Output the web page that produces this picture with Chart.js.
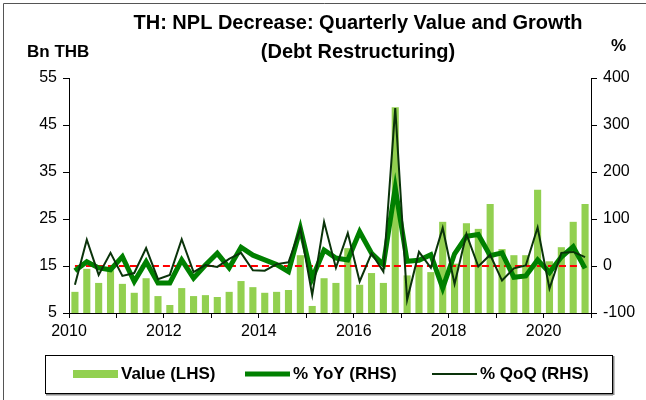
<!DOCTYPE html>
<html>
<head>
<meta charset="utf-8">
<script src="https://cdn.jsdelivr.net/npm/chart.js@4/dist/chart.umd.min.js"></script>
<style>
  html, body { margin: 0; padding: 0; background: #fff; }
  canvas { display: block; }
</style>
</head>
<body>
<canvas id="grafica" width="646" height="400"></canvas>
<script>
// Trimestres 2010Q1 .. 2020Q4
const quarters = [
  '2010Q1','2010Q2','2010Q3','2010Q4','2011Q1','2011Q2','2011Q3','2011Q4',
  '2012Q1','2012Q2','2012Q3','2012Q4','2013Q1','2013Q2','2013Q3','2013Q4',
  '2014Q1','2014Q2','2014Q3','2014Q4','2015Q1','2015Q2','2015Q3','2015Q4',
  '2016Q1','2016Q2','2016Q3','2016Q4','2017Q1','2017Q2','2017Q3','2017Q4',
  '2018Q1','2018Q2','2018Q3','2018Q4','2019Q1','2019Q2','2019Q3','2019Q4',
  '2020Q1','2020Q2','2020Q3','2020Q4'
];

// Valor (Bn THB, eje izquierdo)
const valueLHS = [
  9.5, 14.4, 11.4, 14.1, 11.2, 9.3, 12.4, 8.6,
  6.7, 10.3, 8.6, 8.8, 8.4, 9.5, 11.8, 10.5,
  9.3, 9.5, 9.9, 17.3, 6.5, 12.4, 11.4, 18.8,
  11.0, 13.5, 11.4, 48.8, 13.0, 14.8, 13.7, 24.4,
  15.5, 24.1, 22.9, 28.2, 18.6, 17.3, 17.3, 31.2,
  16.0, 19.0, 24.4, 28.2
];

// % YoY (eje derecho)
const yoyRHS = [
  -10, 9, -4, -8, 20, -33, 9, -36,
  -36, 13, -26, 2, 27, -4, 40, 23,
  13, 3, -12, 80, -26, 34, 17, 13,
  73, 27, 3, 166, 10, 12, 24, -47,
  26, 63, 67, 22, 28, -24, -21, 13,
  -14, 19, 41, -5
];

// % QoQ (eje derecho)
const qoqRHS = [
  -40, 56, -19, 28, -21, -15, 38, -28,
  -19, 57, -13, 2, -2, 15, 28, -9,
  -10, 4, 8, 80, -62, 94, -4, 70,
  -33, 27, -12, 336, -72, 30, -4, 81,
  -38, 68, -1, 24, -31, -5, 1, 82,
  -48, 28, 30, 19
];

// Ticks de los ejes
const leftTicks = [5, 15, 25, 35, 45, 55];
const rightTicks = [-100, 0, 100, 200, 300, 400];
const yearTicks = [2010, 2011, 2012, 2013, 2014, 2015, 2016, 2017, 2018, 2019, 2020, 2021];

const FONT = '"Liberation Sans", Arial, sans-serif';

/** Convierte '2010Q1' en año decimal centrado en el trimestre. */
function posTrimestre(q) {
  const anio = parseInt(q.slice(0, 4), 10);
  const t = parseInt(q.slice(5), 10);
  return anio + (t - 1) / 4 + 0.125;
}

const xs = quarters.map(posTrimestre);
const serie = arr => arr.map((v, i) => ({ x: xs[i], y: v }));

// Textos y leyenda dibujados a mano
const textos = {
  id: 'textos',
  beforeDraw(chart) {
    const ctx = chart.ctx;
    ctx.save();
    ctx.strokeStyle = '#555';
    ctx.lineWidth = 1;
    ctx.beginPath();
    ctx.moveTo(3.5, 400); ctx.lineTo(3.5, 3.5); ctx.lineTo(646, 3.5);
    ctx.stroke();
    ctx.restore();
  },
  afterDraw(chart) {
    const ctx = chart.ctx;
    const area = chart.chartArea;
    ctx.save();
    ctx.fillStyle = '#000';
    ctx.textBaseline = 'middle';
    ctx.textAlign = 'center';
    ctx.font = 'bold 20px ' + FONT;
    ctx.fillText('TH: NPL Decrease: Quarterly Value and Growth', 358, 23);
    ctx.fillText('(Debt Restructuring)', 358, 52);
    ctx.font = 'bold 17px ' + FONT;
    ctx.textAlign = 'left';
    ctx.fillText('Bn THB', 27, 52);
    ctx.fillText('%', 611, 46);

    // Caja de leyenda
    const top = area.bottom + 42, bottom = 393;
    ctx.strokeStyle = '#000';
    ctx.lineWidth = 1;
    ctx.strokeRect(45.5, top + 0.5, 567, bottom - top);
    ctx.fillStyle = '#888';
    ctx.fillRect(46, bottom + 1, 567, 1.5);
    ctx.fillRect(613, top + 1, 1.5, bottom - top + 1);

    const cy = (top + bottom) / 2;
    const inicios = [73, 245, 432];
    let k = 0;
    ctx.font = 'bold 17px ' + FONT;
    chart.data.datasets.forEach(ds => {
      if (!ds.label) return;
      const x = inicios[k++];
      if (ds.type === 'line') {
        ctx.strokeStyle = ds.borderColor;
        ctx.lineWidth = ds.borderWidth;
        ctx.beginPath();
        ctx.moveTo(x, cy); ctx.lineTo(x + 45, cy);
        ctx.stroke();
      } else {
        ctx.fillStyle = ds.backgroundColor;
        ctx.fillRect(x, cy - 4, 45, 8);
      }
      ctx.fillStyle = '#000';
      ctx.fillText(ds.label, x + 48, cy);
    });
    ctx.restore();
  }
};

const ctx = document.getElementById('grafica').getContext('2d');
const chart = new Chart(ctx, {
  type: 'bar',
  data: {
    datasets: [
      { type: 'bar', label: 'Value (LHS)', data: serie(valueLHS), yAxisID: 'y', backgroundColor: '#92d050', barPercentage: 0.6, categoryPercentage: 1, order: 4 },
      { type: 'line', label: '', data: [{ x: xs[0], y: 0 }, { x: xs[xs.length - 1], y: 0 }], yAxisID: 'y2', borderColor: '#ff0000', borderWidth: 2, borderDash: [7, 4], pointRadius: 0, order: 3 },
      { type: 'line', label: '% YoY (RHS)', data: serie(yoyRHS), yAxisID: 'y2', borderColor: '#008000', borderWidth: 5, pointRadius: 0, tension: 0, order: 2 },
      { type: 'line', label: '% QoQ (RHS)', data: serie(qoqRHS), yAxisID: 'y2', borderColor: '#0a330a', borderWidth: 2, pointRadius: 0, tension: 0, order: 1 }
    ]
  },
  options: {
    responsive: false,
    animation: false,
    layout: { padding: { top: 78, bottom: 44, left: 0, right: 0 } },
    plugins: { legend: { display: false }, title: { display: false }, tooltip: { enabled: false } },
    scales: {
      x: {
        type: 'linear', min: 2010, max: 2021, offset: false,
        afterFit: s => { s.height = 43; },
        afterBuildTicks: s => { s.ticks = yearTicks.map(v => ({ value: v })); },
        ticks: { callback: v => (v % 2 === 0 ? String(v) : ''), autoSkip: false, maxRotation: 0, padding: 4, color: '#000', font: { family: FONT, size: 16 } },
        grid: { offset: false, drawOnChartArea: false, tickLength: 5, color: '#000' },
        border: { color: '#000' }
      },
      y: {
        position: 'left', min: 5, max: 55,
        afterFit: s => { s.width = 69; },
        afterBuildTicks: s => { s.ticks = leftTicks.map(v => ({ value: v })); },
        ticks: { padding: 6, color: '#000', font: { family: FONT, size: 16 } },
        grid: { drawOnChartArea: false, tickLength: 6, color: '#000' },
        border: { color: '#000' }
      },
      y2: {
        position: 'right', min: -100, max: 400,
        afterFit: s => { s.width = 55; },
        afterBuildTicks: s => { s.ticks = rightTicks.map(v => ({ value: v })); },
        ticks: { padding: 6, color: '#000', font: { family: FONT, size: 16 } },
        grid: { drawOnChartArea: false, tickLength: 6, color: '#000' },
        border: { color: '#000' }
      }
    }
  },
  plugins: [textos]
});
</script>
</body>
</html>
